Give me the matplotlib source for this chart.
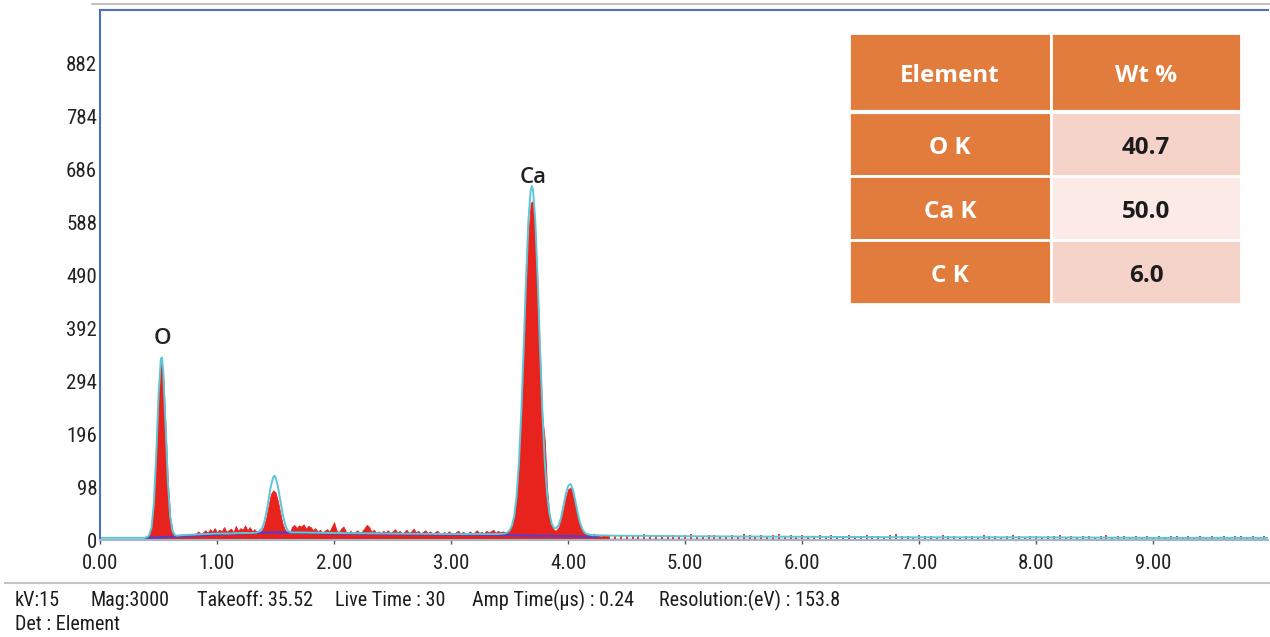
import numpy as np
import matplotlib.pyplot as plt
from matplotlib.patches import Rectangle
from matplotlib.lines import Line2D
from matplotlib import font_manager as fm

# measured spectrum, 0.02 keV channels starting at 0.36 keV
spec_start, spec_step = 0.36, 0.02
spec_counts = [
    0, 4, 5, 9, 24, 68, 154, 262, 328, 305,          # 0.36
    209, 106, 42, 15, 8, 6, 7, 9, 8, 10,             # 0.56
    9, 11, 10, 12, 16, 11, 14, 18, 13, 20,           # 0.76
    15, 22, 14, 19, 16, 24, 15, 18, 21, 14,          # 0.96
    26, 17, 22, 19, 27, 18, 24, 16, 20, 15,          # 1.16
    14, 17, 25, 41, 63, 85, 92, 88, 72, 50,          # 1.36
    30, 19, 14, 12, 24, 28, 22, 27, 25, 29,          # 1.56
    21, 26, 24, 18, 22, 15, 19, 14, 17, 20,          # 1.76
    15, 24, 33, 18, 14, 21, 25, 16, 13, 17,          # 1.96
    12, 15, 18, 13, 16, 22, 28, 24, 15, 19,          # 2.16
    13, 16, 12, 17, 14, 18, 13, 16, 20, 14,          # 2.36
    17, 12, 15, 19, 13, 16, 21, 14, 17, 12,          # 2.56
    15, 18, 13, 16, 12, 14, 17, 13, 11, 15,          # 2.76
    12, 16, 13, 11, 14, 17, 12, 15, 13, 11,          # 2.96
    16, 12, 14, 18, 13, 15, 12, 17, 14, 16,          # 3.16
    19, 13, 17, 14, 16, 15, 14, 18, 27, 45,          # 3.36
    80, 140, 228, 340, 460, 564, 625, 628, 564, 460, # 3.56
    340, 228, 185, 95, 45, 26, 18, 18, 24, 39,       # 3.76
    58, 79, 94, 97, 87, 68, 47, 30, 19, 13,          # 3.96
    10, 9, 8, 12, 7, 9, 6, 10, 8, 7,                 # 4.16
]

# sparse tail, 0.05 keV channels from 4.35 keV
tail_start, tail_step = 4.35, 0.05
tail_counts = [
    9, 7, 10, 8, 9, 7, 11, 8, 9, 10,
    8, 10, 7, 9, 11, 8, 7, 10, 9, 8,
    7, 10, 8, 11, 9, 7, 10, 8, 9, 12,
    8, 9, 7, 10, 8, 6, 9, 7, 10, 8,
    7, 9, 6, 8, 10, 7, 8, 6, 9, 11,
    7, 8, 6, 9, 7, 8, 6, 9, 7, 8,
    6, 8, 7, 6, 9, 7, 8, 6, 7, 9,
    7, 6, 8, 7, 6, 8, 7, 9, 6, 7,
    6, 8, 7, 6, 7, 9, 6, 7, 8, 6,
    7, 6, 8, 6, 7, 6, 8, 7, 6, 7,
    6, 7, 6, 8, 6, 7, 6, 7, 8, 6,
    7, 6, 7, 6, 7, 6, 7, 6, 7, 6,
]

# fitted spectrum (cyan)
fit_kev = [0.00, 0.30, 0.36, 0.38, 0.40, 0.42, 0.44, 0.46, 0.48, 0.50, 0.52, 0.53, 0.54,
           0.56, 0.58, 0.60, 0.62, 0.64, 0.66, 0.70, 0.80, 0.90, 1.00, 1.10, 1.20, 1.30,
           1.34, 1.36, 1.38, 1.40, 1.42, 1.44, 1.46, 1.48, 1.49, 1.50, 1.52, 1.54, 1.56,
           1.58, 1.60, 1.62, 1.64, 1.70, 2.00, 2.50, 3.00, 3.40, 3.46, 3.48, 3.50, 3.52,
           3.54, 3.56, 3.58, 3.60, 3.62, 3.64, 3.66, 3.68, 3.69, 3.70, 3.72, 3.74, 3.76,
           3.78, 3.80, 3.82, 3.84, 3.86, 3.88, 3.90, 3.92, 3.94, 3.96, 3.98, 4.00, 4.02,
           4.04, 4.06, 4.08, 4.10, 4.12, 4.14, 4.16, 4.18, 4.20, 4.40, 5.00, 6.00, 7.00,
           8.00, 9.00, 10.00]
fit_counts = [4, 4, 4, 4, 5, 9, 23, 66, 156, 268, 336, 338, 312,
              214, 108, 43, 16, 9, 8, 9, 10, 11, 12, 12, 13, 13,
              14, 16, 20, 30, 49, 74, 100, 116, 119, 116, 100, 74, 49,
              30, 19, 15, 14, 14, 13, 12, 11, 11, 12, 14, 18, 27,
              45, 82, 146, 238, 355, 482, 590, 648, 656, 648, 590, 482, 355,
              238, 146, 86, 50, 30, 22, 22, 28, 42, 63, 85, 100, 104,
              94, 74, 52, 33, 21, 14, 11, 10, 9, 8, 7, 6, 5,
              5, 4, 4]

# background model (violet)
bg_kev = [0.40, 0.60, 0.80, 1.00, 1.30, 1.50, 1.70, 2.00, 3.00, 3.50, 3.70, 4.00, 4.25]
bg_counts = [4, 6, 8, 10, 13, 14, 13, 12, 10, 9, 8, 7, 6]

peak_names = ['O', 'Ca']
peak_kev = [0.53, 3.70]
label_offset = [14, 6]   # points above fit apex

y_ticks = [0, 98, 196, 294, 392, 490, 588, 686, 784, 882]
x_ticks = [0, 1, 2, 3, 4, 5, 6, 7, 8, 9]

table_header = ['Element', 'Wt %']
table_elements = ['O K', 'Ca K', 'C K']
table_wt = [40.7, 50.0, 6.0]

footer_items = ['kV:15', 'Mag:3000', 'Takeoff: 35.52', 'Live Time : 30',
                'Amp Time(μs) : 0.24', 'Resolution:(eV) : 153.8']
footer_x = [15, 90, 197, 335, 472, 659]
footer_det = 'Det : Element'

RED = '#e8231e'
CYAN = '#5cc6d6'
VIOLET = '#5a3cc8'
ORANGE = '#e27c3c'
calib = ['Open Sans', 'DejaVu Sans']


# the instrument software uses a narrow sans; take one if it is installed
def narrow_font(size):
    fonts = fm.fontManager.ttflist
    for name in ['Liberation Sans Narrow', 'Arial Narrow', 'Roboto Condensed']:
        for f in fonts:
            if f.name == name and f.style == 'normal' and f.weight in (400, 'normal', 'regular'):
                return fm.FontProperties(fname=f.fname, size=size)
    for f in fonts:
        if f.name in ('DejaVu Sans', 'Roboto', 'Noto Sans', 'Open Sans') and \
                str(f.stretch) in ('condensed', 'semi-condensed', '500', '700', '750') and \
                f.style == 'normal' and f.weight in (400, 'normal', 'regular'):
            return fm.FontProperties(fname=f.fname, size=size)
    return fm.FontProperties(family='Liberation Sans', size=size * 0.87)


tick_font = narrow_font(15)
foot_font = narrow_font(14.5)

W, H = 1270, 637
fig = plt.figure(figsize=(W / 100, H / 100), dpi=100)
ax = fig.add_axes([100 / W, 97 / H, 1168 / W, 530 / H])

spec_kev = spec_start + spec_step * np.arange(len(spec_counts))
tail_kev = tail_start + tail_step * np.arange(len(tail_counts))

ax.fill_between(spec_kev, spec_counts, color=RED, lw=0.6, edgecolor=RED)
ax.vlines(tail_kev, 0, tail_counts, color=RED, lw=1.3)
ax.plot([4.3, 6.07], [1.5, 1.5], color=RED, lw=1)
ax.plot(bg_kev, bg_counts, color=VIOLET, lw=1.6)
ax.plot(fit_kev, fit_counts, color=CYAN, lw=1.4)

fit_arr = np.array(fit_counts)
fit_k = np.array(fit_kev)
for name, k, off in zip(peak_names, peak_kev, label_offset):
    apex = fit_arr[np.abs(fit_k - k) < 0.1].max()
    ax.annotate(name, (k, apex), xytext=(0, off), textcoords='offset points',
                ha='center', va='center', fontsize=16, weight='semibold',
                family=calib, color='#222222')

ax.set_xlim(0, 9.98)
ax.set_ylim(0, 982)
ax.set_xticks(x_ticks)
ax.set_xticklabels([f'{v:.2f}' for v in x_ticks])
ax.set_yticks(y_ticks)
ax.set_yticklabels([str(v) for v in y_ticks])
ax.tick_params(axis='y', length=0, pad=2, labelcolor='#222222')
ax.tick_params(axis='x', length=3, width=1, color='#555555', pad=7, labelcolor='#222222')
for lab in ax.get_xticklabels() + ax.get_yticklabels():
    lab.set_fontproperties(tick_font)

for s in ['left', 'top']:
    ax.spines[s].set_color('#4a72c0')
    ax.spines[s].set_linewidth(1.5)
ax.spines['right'].set_visible(False)
ax.spines['bottom'].set_color('#9fb8cc')
ax.spines['bottom'].set_linewidth(1.5)

# frame lines outside the plot
fig.add_artist(Line2D([92 / W, 1], [1 - 4 / H] * 2, color='#b5b5b5', lw=1.2))
fig.add_artist(Line2D([5 / W, 1], [1 - 583 / H] * 2, color='#c4c4c4', lw=1.5))

# composition table
tax = fig.add_axes([849 / W, 1 - 304 / H, 392 / W, 271 / H])
tax.set_xlim(0, 392)
tax.set_ylim(271, 0)
tax.axis('off')
col_x = [0, 202, 392]
row_y = [0, 79, 143, 207, 271]
text_drop = 4
value_bg = ['#f6d3c9', '#fbeae6', '#f6d3c9']
for c in range(2):
    tax.add_patch(Rectangle((col_x[c], row_y[0]), col_x[c + 1] - col_x[c], row_y[1] - row_y[0],
                            facecolor=ORANGE, edgecolor='white', lw=2))
    tax.text((col_x[c] + col_x[c + 1]) / 2, (row_y[0] + row_y[1]) / 2 + text_drop,
             table_header[c], ha='center', va='center', color='white', fontsize=17.5,
             weight='bold', family=calib)
for r, (el, wt) in enumerate(zip(table_elements, table_wt)):
    y0, y1 = row_y[r + 1], row_y[r + 2]
    tax.add_patch(Rectangle((col_x[0], y0), col_x[1] - col_x[0], y1 - y0,
                            facecolor=ORANGE, edgecolor='white', lw=2))
    tax.add_patch(Rectangle((col_x[1], y0), col_x[2] - col_x[1], y1 - y0,
                            facecolor=value_bg[r], edgecolor='white', lw=2))
    tax.text((col_x[0] + col_x[1]) / 2, (y0 + y1) / 2 + text_drop, el, ha='center',
             va='center', color='white', fontsize=17.5, weight='bold', family=calib)
    tax.text((col_x[1] + col_x[2]) / 2, (y0 + y1) / 2 + text_drop, f'{wt:.1f}', ha='center',
             va='center', color='#1c1c1c', fontsize=17.5, weight='bold', family=calib)
tax.plot([0, 392], [row_y[1], row_y[1]], color='white', lw=3)

# acquisition footer
for txt, x in zip(footer_items, footer_x):
    fig.text(x / W, 1 - 600 / H, txt, ha='left', va='center',
             fontproperties=foot_font, color='#1c1c1c')
fig.text(15 / W, 1 - 624 / H, footer_det, ha='left', va='center',
         fontproperties=foot_font, color='#1c1c1c')

fig.savefig('out.png', dpi=100)
